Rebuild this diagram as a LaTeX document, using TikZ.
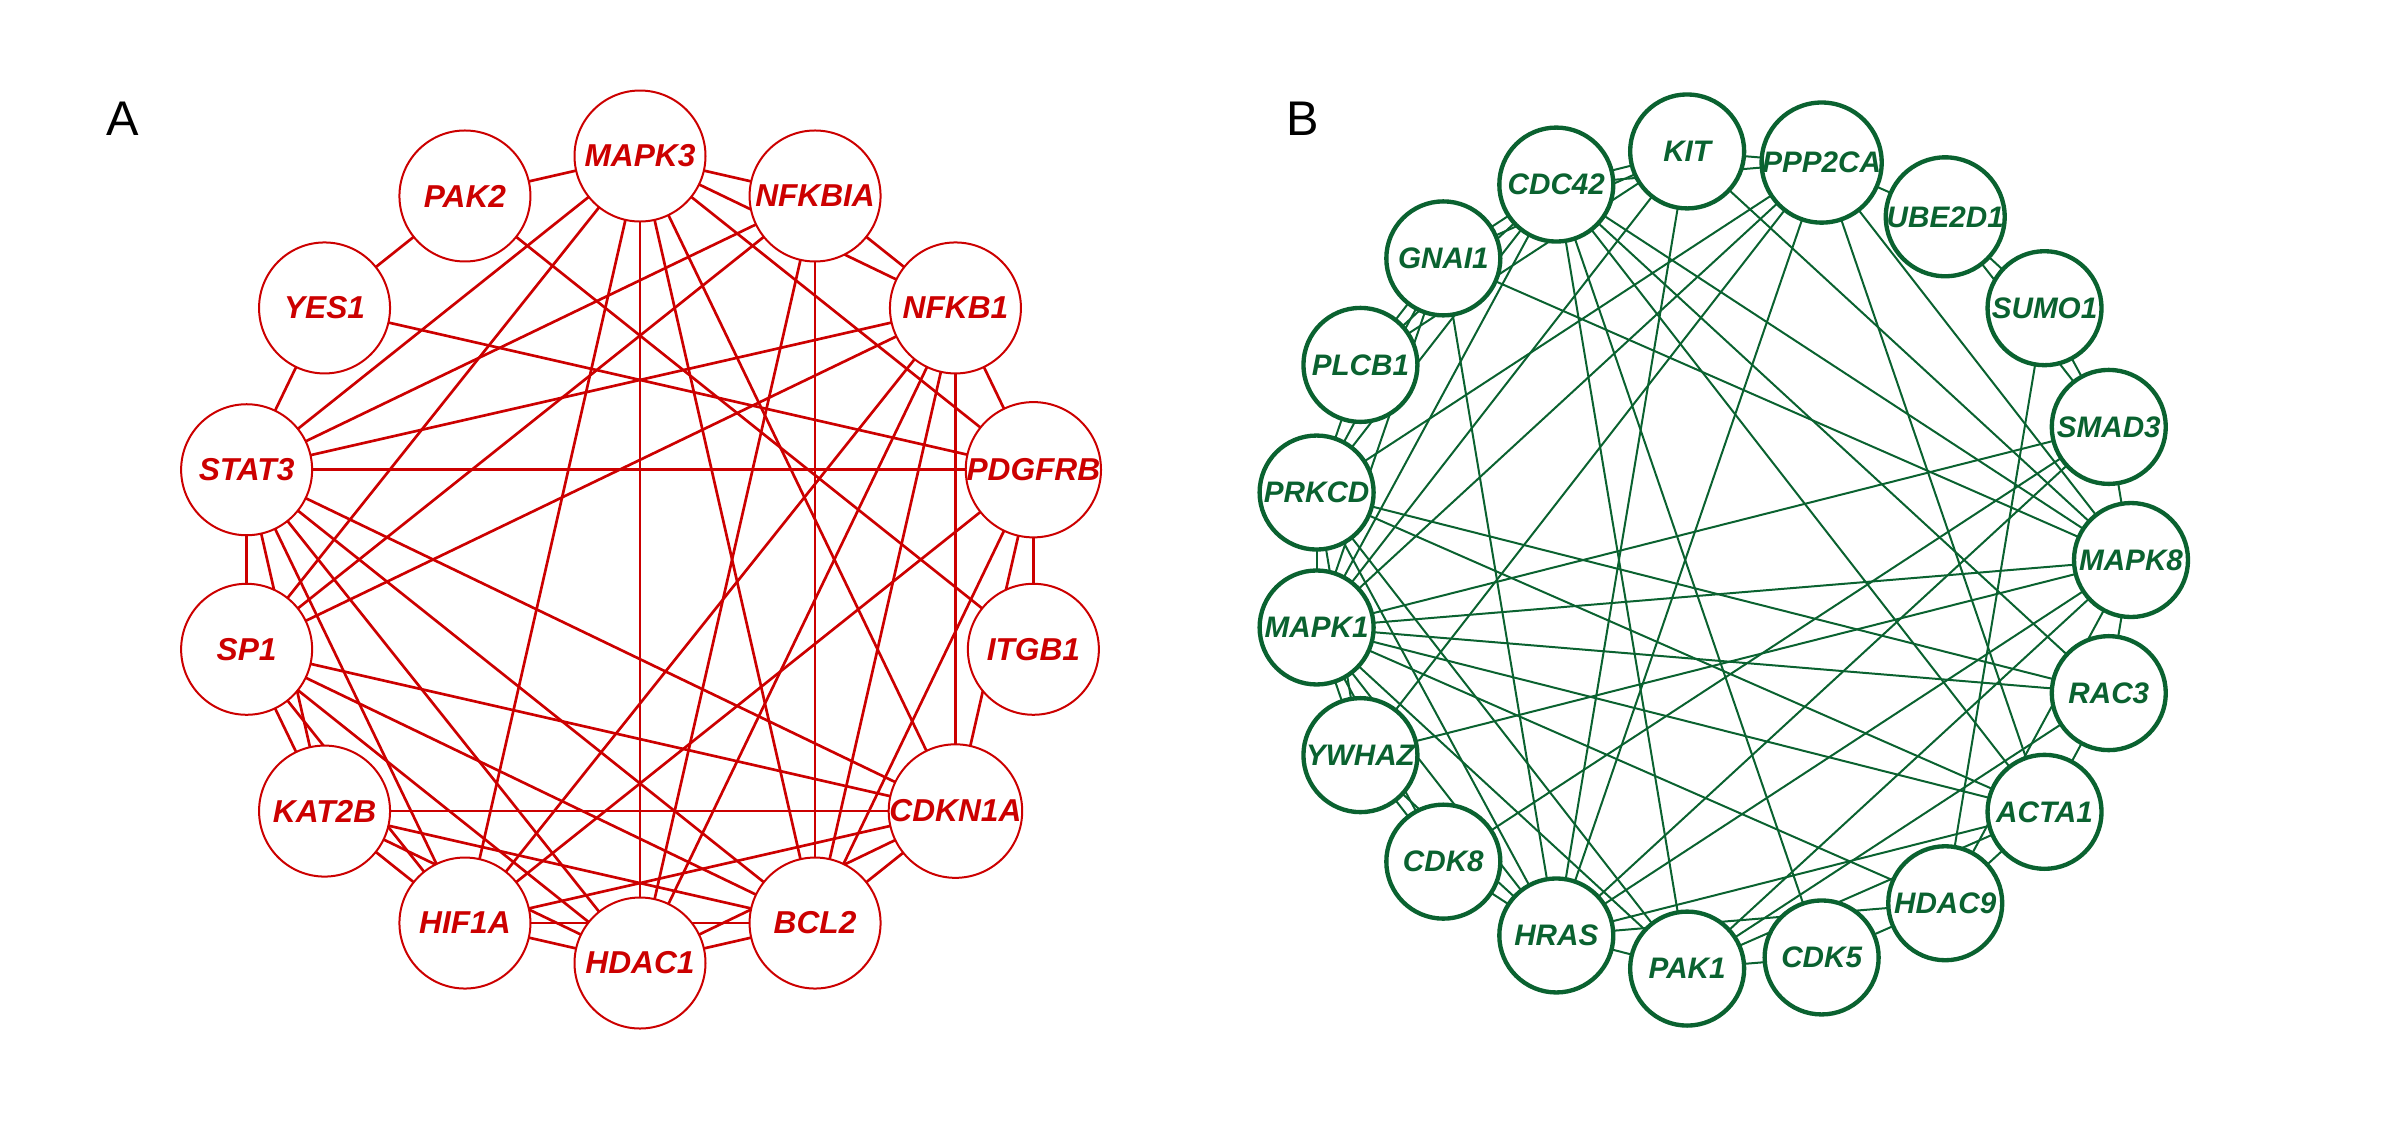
\documentclass[tikz,border=0pt]{standalone}
\usepackage{fontspec}
\setmainfont{Liberation Sans}
\newfontfamily\lbsans{Liberation Sans}
\pgfdeclarelayer{edgelayer}
\pgfsetlayers{edgelayer,main}
\definecolor{netred}{RGB}{204,0,0}
\definecolor{netgreen}{RGB}{10,98,48}
\tikzset{
  rednode/.style={circle,draw=netred,fill=white,line width=0.6pt,minimum size=39.3pt,inner sep=0pt,
    text=netred,font=\lbsans\bfseries\itshape\fontsize{9.5}{10}\selectfont},
  greennode/.style={circle,draw=netgreen,fill=white,line width=1.3pt,minimum size=34.2pt,inner sep=0pt,
    text=netgreen,font=\lbsans\bfseries\itshape\fontsize{8.9}{10}\selectfont},
  rededge/.style={draw=netred,line width=0.8pt},
  greenedge/.style={draw=netgreen,line width=0.6pt},
  paneltag/.style={font=\lbsans\fontsize{14.6}{16}\selectfont,text=black}
}
\begin{document}
\begin{tikzpicture}[x=0.3pt,y=-0.3pt]
\useasboundingbox (0,0) rectangle (2400,1139);
% Panel labels
\node[paneltag] (tagA) at (123,119) {A};
\node[paneltag] (tagB) at (1303,119) {B};
% Panel A nodes: centre (640,559.5), radius 403.5
\foreach \nm/\lab/\ang in {MAPKiii/MAPK3/90, PAKii/PAK2/115.714, YESi/YES1/141.429, STATiii/STAT3/167.143,
  SPi/SP1/192.857, KATiiB/KAT2B/218.571, HIFiA/HIF1A/244.286, HDACi/HDAC1/270, BCLii/BCL2/295.714,
  CDKNiA/CDKN1A/321.429, ITGBi/ITGB1/347.143, PDGFRB/PDGFRB/12.857, NFKBi/NFKB1/38.571, NFKBIA/NFKBIA/64.286}
  {\node[rednode] (\nm) at ({640+403.5*cos(\ang)},{559.5-403.5*sin(\ang)}) {\lab};}
% Panel B nodes: centre (1721,560), radius 410
\foreach \nm/\lab/\k in {MAPKviii/MAPK8/0, SMADiii/SMAD3/1, SUMOi/SUMO1/2, UBEiiDi/UBE2D1/3, PPPiiCA/PPP2CA/4,
  KIT/KIT/5, CDCxlii/CDC42/6, GNAIi/GNAI1/7, PLCBi/PLCB1/8, PRKCD/PRKCD/9, MAPKi/MAPK1/10, YWHAZ/YWHAZ/11,
  CDKviii/CDK8/12, HRAS/HRAS/13, PAKi/PAK1/14, CDKv/CDK5/15, HDACix/HDAC9/16, ACTAi/ACTA1/17, RACiii/RAC3/18}
  {\node[greennode] (\nm) at ({1721+410*cos(\k*360/19)},{560-410*sin(\k*360/19)}) {\lab};}
\begin{pgfonlayer}{edgelayer}
\foreach \a/\b in {MAPKiii/PAKii, MAPKiii/NFKBIA, MAPKiii/NFKBi, MAPKiii/PDGFRB, MAPKiii/CDKNiA, MAPKiii/BCLii,
  MAPKiii/HDACi, MAPKiii/HIFiA, MAPKiii/SPi, MAPKiii/STATiii, PAKii/YESi, PAKii/ITGBi, YESi/STATiii, YESi/PDGFRB,
  STATiii/NFKBIA, STATiii/NFKBi, STATiii/PDGFRB, STATiii/CDKNiA, STATiii/BCLii, STATiii/HDACi, STATiii/HIFiA,
  STATiii/KATiiB, STATiii/SPi, NFKBIA/NFKBi, NFKBIA/SPi, NFKBIA/HDACi, NFKBIA/BCLii, NFKBi/SPi, NFKBi/HIFiA,
  NFKBi/HDACi, NFKBi/BCLii, NFKBi/CDKNiA, NFKBi/PDGFRB, PDGFRB/HIFiA, PDGFRB/BCLii, PDGFRB/CDKNiA, PDGFRB/ITGBi,
  SPi/CDKNiA, SPi/BCLii, SPi/HDACi, SPi/HIFiA, SPi/KATiiB, KATiiB/CDKNiA, KATiiB/BCLii, KATiiB/HDACi, KATiiB/HIFiA,
  HIFiA/CDKNiA, HIFiA/BCLii, HIFiA/HDACi, HDACi/BCLii, HDACi/CDKNiA, BCLii/CDKNiA}
  {\draw[rededge] (\a.center) -- (\b.center);}
% ring neighbours and short links
\foreach \a/\b in {KIT/CDCxlii, KIT/PPPiiCA, PPPiiCA/UBEiiDi, UBEiiDi/SUMOi, SUMOi/SMADiii, SMADiii/MAPKviii,
  MAPKviii/RACiii, RACiii/ACTAi, ACTAi/HDACix, HDACix/CDKv, CDKv/PAKi, PAKi/HRAS, HRAS/CDKviii, CDKviii/YWHAZ,
  YWHAZ/MAPKi, MAPKi/PRKCD, PRKCD/PLCBi, PLCBi/GNAIi, GNAIi/CDCxlii,
  GNAIi/KIT, CDCxlii/PPPiiCA, UBEiiDi/SMADiii, MAPKviii/HDACix, HRAS/HDACix, PAKi/ACTAi, CDKviii/MAPKi,
  YWHAZ/PRKCD, HRAS/YWHAZ, PRKCD/GNAIi, PRKCD/CDCxlii, MAPKi/GNAIi, PLCBi/CDCxlii, PLCBi/KIT}
  {\draw[greenedge] (\a.center) -- (\b.center);}
% long links
\foreach \a/\b in {GNAIi/MAPKviii, GNAIi/HRAS, KIT/MAPKviii, KIT/HRAS, KIT/MAPKi,
  CDCxlii/MAPKviii, CDCxlii/RACiii, CDCxlii/ACTAi, CDCxlii/CDKv, CDCxlii/PAKi, CDCxlii/MAPKi,
  PPPiiCA/PRKCD, PPPiiCA/MAPKi, PPPiiCA/YWHAZ, PPPiiCA/HRAS, PPPiiCA/ACTAi, PPPiiCA/MAPKviii,
  SUMOi/HDACix, SMADiii/MAPKi, SMADiii/CDKviii, SMADiii/HRAS, MAPKviii/YWHAZ, MAPKviii/MAPKi,
  MAPKviii/HRAS, MAPKviii/PAKi, RACiii/MAPKi, RACiii/PRKCD, RACiii/PAKi, ACTAi/MAPKi, ACTAi/HRAS,
  ACTAi/PRKCD, HDACix/MAPKi, MAPKi/HRAS, MAPKi/PAKi, PRKCD/PAKi, PRKCD/HRAS}
  {\draw[greenedge] (\a.center) -- (\b.center);}
\end{pgfonlayer}
\end{tikzpicture}
\end{document}
